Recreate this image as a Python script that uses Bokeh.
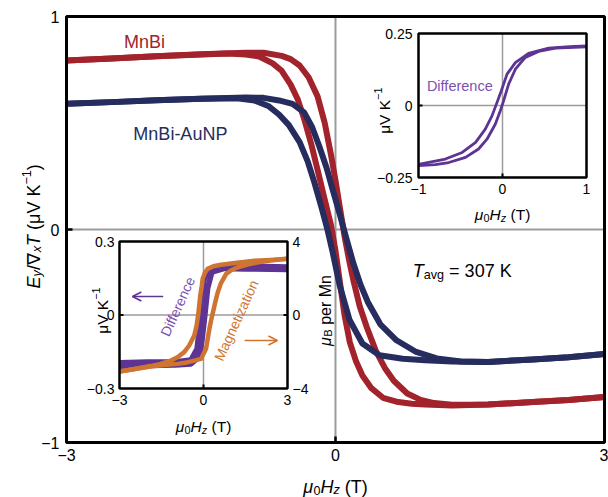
import math
from bokeh.plotting import figure
from bokeh.models import Range1d, Label, Arrow, OpenHead
from bokeh.embed import file_html
from bokeh.resources import INLINE

# ---------------- data ----------------
MAIN_XLIM = (-3, 3)
MAIN_YLIM = (-1, 1)
MAIN_X_TICKS = [-3, 0, 3]
MAIN_X_LABELS = ["−3", "0", "3"]
MAIN_Y_TICKS = [-1, 0, 1]
MAIN_Y_LABELS = ["−1", "0", "1"]

# MnBi (red) - left and right branches of the loop
H_RED_L = [-3.0, -2.5, -2.0, -1.5, -1.2, -1.0, -0.85, -0.7, -0.6, -0.5, -0.42, -0.35, -0.27, -0.2, -0.12,
           -0.05, 0.0, 0.05, 0.1, 0.16, 0.23, 0.3, 0.4, 0.53, 0.7, 0.85, 1.0, 1.3, 1.7, 2.2, 2.6, 3.0]
V_RED_L = [0.793, 0.803, 0.813, 0.822, 0.826, 0.822, 0.812, 0.78, 0.745, 0.68, 0.61, 0.52, 0.40, 0.28, 0.14,
           0.02, -0.10, -0.25, -0.40, -0.53, -0.62, -0.685, -0.745, -0.79, -0.81, -0.818, -0.822, -0.826,
           -0.822, -0.81, -0.80, -0.786]
H_RED_R = [-3.0, -2.5, -2.0, -1.5, -1.0, -0.8, -0.6, -0.5, -0.4, -0.3, -0.2, -0.12, -0.05, 0.0, 0.05, 0.1,
           0.15, 0.2, 0.27, 0.35, 0.45, 0.55, 0.65, 0.8, 0.95, 1.1, 1.3, 1.7, 2.2, 2.6, 3.0]
V_RED_R = [0.793, 0.803, 0.813, 0.823, 0.83, 0.83, 0.815, 0.80, 0.77, 0.715, 0.625, 0.50, 0.35, 0.23, 0.10,
           -0.03, -0.14, -0.24, -0.36, -0.46, -0.57, -0.65, -0.71, -0.77, -0.80, -0.815, -0.823, -0.822,
           -0.81, -0.80, -0.786]

# MnBi-AuNP (navy)
H_BLUE_L = [-3.0, -2.5, -2.0, -1.5, -1.1, -0.9, -0.75, -0.63, -0.52, -0.4, -0.31, -0.235, -0.157, -0.09,
            -0.03, 0.045, 0.157, 0.3, 0.49, 0.75, 1.0, 1.3, 1.7, 2.2, 2.6, 3.0]
V_BLUE_L = [0.59, 0.598, 0.607, 0.614, 0.616, 0.605, 0.58, 0.54, 0.49, 0.41, 0.32, 0.22, 0.105, 0.0,
            -0.11, -0.26, -0.425, -0.535, -0.59, -0.607, -0.614, -0.62, -0.622, -0.61, -0.60, -0.585]
H_BLUE_R = [-3.0, -2.5, -2.0, -1.5, -1.0, -0.8, -0.63, -0.48, -0.35, -0.26, -0.18, -0.1, -0.03, 0.045,
            0.12, 0.2, 0.28, 0.36, 0.5, 0.68, 0.9, 1.13, 1.4, 1.7, 2.2, 2.6, 3.0]
V_BLUE_R = [0.59, 0.598, 0.607, 0.614, 0.62, 0.618, 0.606, 0.59, 0.55, 0.48, 0.39, 0.29, 0.185, 0.075,
            -0.04, -0.16, -0.26, -0.34, -0.445, -0.52, -0.575, -0.605, -0.62, -0.622, -0.61, -0.60, -0.585]

# upper-right inset: difference
UR_XLIM = (-1, 1)
UR_YLIM = (-0.25, 0.25)
UR_X_TICKS = [-1, 0, 1]
UR_X_LABELS = ["−1", "0", "1"]
UR_Y_TICKS = [-0.25, 0, 0.25]
UR_Y_LABELS = ["−0.25", "0", "0.25"]
H_DIFF_UP = [-1.0, -0.68, -0.48, -0.32, -0.205, -0.125, -0.066, -0.014, 0.054, 0.153, 0.31, 0.55, 0.8, 1.0]
V_DIFF_UP = [-0.204, -0.186, -0.163, -0.128, -0.082, -0.036, 0.01, 0.051, 0.109, 0.149, 0.181, 0.199,
             0.204, 0.207]
H_DIFF_LO = [-1.0, -0.8, -0.64, -0.44, -0.285, -0.185, -0.086, -0.026, 0.013, 0.073, 0.153, 0.272, 0.43,
             0.63, 1.0]
V_DIFF_LO = [-0.209, -0.205, -0.198, -0.18, -0.151, -0.117, -0.065, -0.018, 0.016, 0.074, 0.126, 0.167,
             0.188, 0.199, 0.204]

# lower-left inset: difference (left axis) and magnetization (right axis)
LL_XLIM = (-3, 3)
LL_YLIM = (-0.3, 0.3)
LL_Y2LIM = (-4, 4)
LL_X_TICKS = [-3, 0, 3]
LL_X_LABELS = ["−3", "0", "3"]
LL_Y_TICKS = [-0.3, 0, 0.3]
LL_Y_LABELS = ["−0.3", "0", "0.3"]
LL_Y2_TICKS = [-4, 0, 4]
LL_Y2_LABELS = ["−4", "0", "4"]
H_LLD_A = [-3.0, -2.0, -1.05, -0.45, -0.23, -0.15, -0.09, 0.03, 0.27, 0.75, 1.5, 3.0]
V_LLD_A = [-0.195, -0.192, -0.192, -0.184, -0.138, -0.056, 0.052, 0.148, 0.19, 0.2, 0.2, 0.196]
H_LLD_B = [-3.0, -2.0, -1.0, -0.45, -0.15, -0.05, 0.05, 0.15, 0.3, 0.75, 1.5, 3.0]
V_LLD_B = [-0.21, -0.206, -0.204, -0.2, -0.17, -0.10, 0.0, 0.11, 0.175, 0.19, 0.188, 0.186]
H_MAG_L = [-3.0, -2.4, -1.89, -1.53, -1.2, -0.93, -0.69, -0.51, -0.33, -0.25, -0.19, -0.115, -0.06,
           -0.03, 0.05, 0.15, 0.35, 0.63, 1.2, 1.83, 2.4, 3.0]
M_MAG_L = [-3.07, -2.92, -2.78, -2.66, -2.5, -2.3, -2.02, -1.66, -1.12, -0.6, 0.0, 1.06, 1.6, 1.97, 2.3,
           2.51, 2.65, 2.73, 2.84, 2.95, 3.0, 3.06]
H_MAG_R = [-3.0, -2.4, -1.89, -1.4, -0.93, -0.6, -0.33, -0.09, 0.09, 0.21, 0.27, 0.33, 0.42, 0.51, 0.63,
           0.81, 1.0, 1.23, 1.6, 1.95, 2.4, 3.0]
M_MAG_R = [-3.07, -2.93, -2.8, -2.72, -2.66, -2.58, -2.48, -2.39, -1.84, -0.75, -0.3, 0.1, 0.7, 1.24,
           1.75, 2.24, 2.45, 2.6, 2.76, 2.87, 2.97, 3.06]

# ---------------- styles / layout ----------------
FONT = "Liberation Sans"
RED = "#a2232b"
NAVY = "#272c5e"
PURPLE = "#5d3494"
PURPLE_TXT = "#7b52b2"
ORANGE = "#cf7431"
GRAY = "#9b9b9b"

CW, CH = 608, 497
MAIN = (66, 604, 16, 442)                  # boxes in canvas px: left, right, top, bottom
UR = (418, 586, 33, 177)
LL = (119, 287, 241, 388)

WID = {" ": 278, "(": 333, ")": 333, "-": 333, ".": 278, "/": 278, "=": 584, "−": 584, "∇": 713,
       "A": 667, "B": 667, "D": 722, "E": 667, "H": 722, "K": 667, "M": 833, "N": 722, "P": 667,
       "T": 611, "V": 667, "a": 556, "c": 500, "e": 556, "f": 278, "g": 556, "i": 222, "n": 556,
       "o": 556, "p": 556, "r": 333, "t": 278, "u": 556, "v": 500, "x": 500, "y": 500, "z": 500,
       "μ": 576}


def tw(s, size):
    return sum(WID.get(c, 556) for c in s) * size / 1000.0


def sub_range(d0, d1, p0, p1, f0, f1):
    s = (d1 - d0) / (p1 - p0)
    return Range1d(start=d0 + (f0 - p0) * s, end=d1 + (f1 - p1) * s)


p = figure(width=CW, height=CH, title=None,
           x_range=sub_range(MAIN_XLIM[0], MAIN_XLIM[1], MAIN[0], MAIN[1], 0, CW),
           y_range=sub_range(MAIN_YLIM[0], MAIN_YLIM[1], MAIN[3], MAIN[2], CH, 0),
           x_axis_type=None, y_axis_type=None,
           output_backend="svg", toolbar_location=None, min_border=0,
           outline_line_color=None, background_fill_color="white", border_fill_color="white")

p.extra_x_ranges = {
    "urx": sub_range(UR_XLIM[0], UR_XLIM[1], UR[0], UR[1], 0, CW),
    "llx": sub_range(LL_XLIM[0], LL_XLIM[1], LL[0], LL[1], 0, CW),
}
p.extra_y_ranges = {
    "ury": sub_range(UR_YLIM[0], UR_YLIM[1], UR[3], UR[2], CH, 0),
    "lly": sub_range(LL_YLIM[0], LL_YLIM[1], LL[3], LL[2], CH, 0),
    "lly2": sub_range(LL_Y2LIM[0], LL_Y2LIM[1], LL[3], LL[2], CH, 0),
}


def rich(runs, x, y, size, color, angle=0.0, align="center", xoff=0.0, yoff=0.0,
         xr="default", yr="default"):
    def fsz(k):
        return size * 0.7 if k in ("sub", "subi", "sup") else size
    total = sum(tw(t, fsz(k)) for t, k in runs)
    pos = {"center": -total / 2.0, "left": 0.0, "right": -total}[align]
    ca, sa = math.cos(angle), math.sin(angle)
    for t, k in runs:
        fs = fsz(k)
        shift = -0.2 * size if k in ("sub", "subi") else (0.4 * size if k == "sup" else 0.0)
        lead = len(t) - len(t.lstrip(" "))
        pos += lead * WID[" "] * fs / 1000.0
        body = t.lstrip(" ")
        ox = xoff + pos * ca - shift * sa
        oy = yoff + pos * sa + shift * ca
        p.add_layout(Label(x=x, y=y, x_offset=ox, y_offset=oy, text=body.rstrip(" "), angle=angle,
                           text_align="left", text_baseline="alphabetic", text_font=FONT,
                           text_font_size=f"{fs:.1f}px",
                           text_font_style="italic" if k in ("i", "subi") else "normal",
                           text_color=color, x_range_name=xr, y_range_name=yr))
        pos += tw(body, fs)


def label(text, x, y, size, color="black", align="center", baseline="middle", xoff=0, yoff=0,
          angle=0.0, xr="default", yr="default"):
    p.add_layout(Label(x=x, y=y, x_offset=xoff, y_offset=yoff, text=text, angle=angle,
                       text_align=align, text_baseline=baseline, text_font=FONT,
                       text_font_size=f"{size}px", text_color=color,
                       x_range_name=xr, y_range_name=yr))


def zero_lines(xr, yr, xlim, ylim, width):
    p.segment(x0=[0, xlim[0]], y0=[ylim[0], 0], x1=[0, xlim[1]], y1=[ylim[1], 0],
              line_color=GRAY, line_width=width, x_range_name=xr, y_range_name=yr)


def zero_ticks(xr, yr, xlim, ylim, box, tl, width, right=False):
    dxp = (xlim[1] - xlim[0]) / (box[1] - box[0])
    dyp = (ylim[1] - ylim[0]) / (box[3] - box[2])
    x0s, y0s, x1s, y1s = [0, xlim[0]], [ylim[0], 0], [0, xlim[0] + tl * dxp], [ylim[0] + tl * dyp, 0]
    if right:
        x0s.append(xlim[1]); y0s.append(0); x1s.append(xlim[1] - tl * dxp); y1s.append(0)
    p.segment(x0=x0s, y0=y0s, x1=x1s, y1=y1s, line_color="black", line_width=width,
              x_range_name=xr, y_range_name=yr)


def box(xr, yr, xlim, ylim, width):
    p.quad(left=xlim[0], right=xlim[1], bottom=ylim[0], top=ylim[1], fill_color=None,
           line_color="black", line_width=width, x_range_name=xr, y_range_name=yr)


# ---- main plot ----
zero_lines("default", "default", MAIN_XLIM, MAIN_YLIM, 2)
for hs, vs, c in ((H_RED_L, V_RED_L, RED), (H_RED_R, V_RED_R, RED),
                  (H_BLUE_L, V_BLUE_L, NAVY), (H_BLUE_R, V_BLUE_R, NAVY)):
    p.line(hs, vs, line_color=c, line_width=6, line_join="round")
zero_ticks("default", "default", MAIN_XLIM, MAIN_YLIM, MAIN, 6, 2.5)
box("default", "default", MAIN_XLIM, MAIN_YLIM, 3)
for t, l in zip(MAIN_X_TICKS, MAIN_X_LABELS):
    if t == MAIN_X_TICKS[-1]:
        label(l, t, MAIN_YLIM[0], 16, align="right", baseline="top", xoff=4, yoff=-6)
    else:
        label(l, t, MAIN_YLIM[0], 16, baseline="top", yoff=-6)
for t, l in zip(MAIN_Y_TICKS, MAIN_Y_LABELS):
    label(l, MAIN_XLIM[0], t, 16, align="right", xoff=-7)

mu0hz = [("μ", "i"), ("0", "sub"), ("H", "i"), ("z", "subi"), (" (T)", "n")]
rich(mu0hz, 0, MAIN_YLIM[0], 18, "black", yoff=-44)
rich([("E", "i"), ("y", "subi"), ("/∇", "n"), ("x", "subi"), ("T", "i"), (" (μV K", "n"),
      ("−1", "sup"), (")", "n")], MAIN_XLIM[0], 0.015, 18, "black", angle=math.pi / 2, xoff=-33)
rich([("MnBi", "n")], -2.13, 0.878, 18, RED)
rich([("MnBi-AuNP", "n")], -1.73, 0.448, 18, NAVY)
rich([("T", "i"), ("avg", "sub"), (" = 307 K", "n")], 0.862, -0.197, 18, "black", align="left")

# ---- upper-right inset ----
zero_lines("urx", "ury", UR_XLIM, UR_YLIM, 1.5)
for hs, vs in ((H_DIFF_UP, V_DIFF_UP), (H_DIFF_LO, V_DIFF_LO)):
    p.line(hs, vs, line_color=PURPLE, line_width=2.8, line_join="round",
           x_range_name="urx", y_range_name="ury")
zero_ticks("urx", "ury", UR_XLIM, UR_YLIM, UR, 4, 2)
box("urx", "ury", UR_XLIM, UR_YLIM, 2.5)
for t, l in zip(UR_X_TICKS, UR_X_LABELS):
    label(l, t, UR_YLIM[0], 14, baseline="top", yoff=-6, xr="urx", yr="ury")
for t, l in zip(UR_Y_TICKS, UR_Y_LABELS):
    label(l, UR_XLIM[0], t, 14, align="right", xoff=-6, xr="urx", yr="ury")
rich(mu0hz, 0, UR_YLIM[0], 15.5, "black", yoff=-37, xr="urx", yr="ury")
rich([("μV K", "n"), ("−1", "sup")], UR_XLIM[0], -0.018, 15.5, "black", angle=math.pi / 2,
     xoff=-34.5, xr="urx", yr="ury")
rich([("Difference", "n")], -0.90, 0.068, 14.5, PURPLE_TXT, align="left", xr="urx", yr="ury")

# ---- lower-left inset ----
zero_lines("llx", "lly", LL_XLIM, LL_YLIM, 1.5)
for hs, vs in ((H_LLD_A, V_LLD_A), (H_LLD_B, V_LLD_B)):
    p.line(hs, vs, line_color=PURPLE, line_width=5.5, line_join="round",
           x_range_name="llx", y_range_name="lly")
for hs, ms in ((H_MAG_L, M_MAG_L), (H_MAG_R, M_MAG_R)):
    p.line(hs, ms, line_color=ORANGE, line_width=4.5, line_join="round",
           x_range_name="llx", y_range_name="lly2")
zero_ticks("llx", "lly", LL_XLIM, LL_YLIM, LL, 4, 2, right=True)
box("llx", "lly", LL_XLIM, LL_YLIM, 2.5)
for t, l in zip(LL_X_TICKS, LL_X_LABELS):
    label(l, t, LL_YLIM[0], 14, baseline="top", yoff=-6, xr="llx", yr="lly")
for t, l in zip(LL_Y_TICKS, LL_Y_LABELS):
    label(l, LL_XLIM[0], t, 14, align="right", xoff=-5, xr="llx", yr="lly")
for t, l in zip(LL_Y2_TICKS, LL_Y2_LABELS):
    label(l, LL_XLIM[1], t, 14, align="left", xoff=5, xr="llx", yr="lly2")
rich(mu0hz, 0, LL_YLIM[0], 15.5, "black", yoff=-38, xr="llx", yr="lly")
rich([("μV K", "n"), ("−1", "sup")], LL_XLIM[0], 0.018, 15.5, "black", angle=math.pi / 2,
     xoff=-17, xr="llx", yr="lly")
rich([("μ", "i"), ("B", "sub"), (" per Mn", "n")], LL_XLIM[1], 0.245, 16, "black", angle=math.pi / 2,
     xoff=37.5, xr="llx", yr="lly2")
TILT = math.radians(65.5)
label("Difference", -0.92, 0.035, 14, color=PURPLE_TXT, angle=TILT, xr="llx", yr="lly")
label("Magnetization", 1.17, -0.022, 14, color=ORANGE, angle=TILT, xr="llx", yr="lly")
p.add_layout(Arrow(x_start=-1.44, y_start=0.0755, x_end=-2.54, y_end=0.0755,
                   line_color=PURPLE, line_width=1.5,
                   end=OpenHead(size=9, line_color=PURPLE, line_width=1.5),
                   x_range_name="llx", y_range_name="lly"))
p.add_layout(Arrow(x_start=1.47, y_start=-0.104, x_end=2.64, y_end=-0.104,
                   line_color=ORANGE, line_width=1.5,
                   end=OpenHead(size=9, line_color=ORANGE, line_width=1.5),
                   x_range_name="llx", y_range_name="lly"))

open("out.html", "w").write(file_html(p, INLINE))
